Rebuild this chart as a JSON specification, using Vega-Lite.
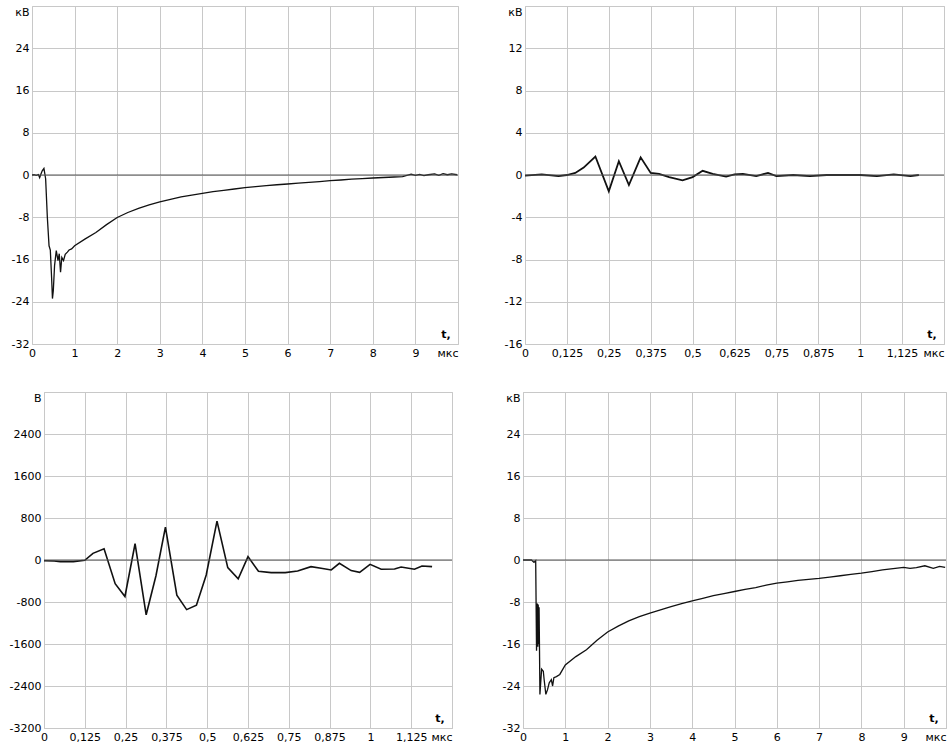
{
  "$schema": "https://vega.github.io/schema/vega-lite/v6.json",
  "padding": {"left": 0, "top": 5, "right": 0, "bottom": 0},
  "background": "white",
  "datasets": {
    "p1": [
      {"t": 0, "v": 0}, {"t": 0.05, "v": 0.05}, {"t": 0.1, "v": -0.05}, {"t": 0.15, "v": 0.1}, {"t": 0.18, "v": -0.5},
      {"t": 0.21, "v": 0.2}, {"t": 0.24, "v": 0.8}, {"t": 0.28, "v": 1.25}, {"t": 0.32, "v": -0.7}, {"t": 0.36, "v": -8},
      {"t": 0.40, "v": -13.4}, {"t": 0.43, "v": -14.2}, {"t": 0.46, "v": -19.4}, {"t": 0.48, "v": -23.4}, {"t": 0.50, "v": -21.9},
      {"t": 0.53, "v": -17.1}, {"t": 0.57, "v": -14.3}, {"t": 0.61, "v": -16.2}, {"t": 0.64, "v": -14.9}, {"t": 0.67, "v": -18.4},
      {"t": 0.70, "v": -15.6}, {"t": 0.74, "v": -16.2}, {"t": 0.78, "v": -15}, {"t": 0.83, "v": -14.6}, {"t": 0.87, "v": -14.2},
      {"t": 0.93, "v": -14}, {"t": 1.0, "v": -13.4}, {"t": 1.25, "v": -12.1}, {"t": 1.5, "v": -10.9}, {"t": 1.75, "v": -9.4},
      {"t": 2.0, "v": -8.05}, {"t": 2.25, "v": -7.1}, {"t": 2.5, "v": -6.3}, {"t": 2.75, "v": -5.65}, {"t": 3.0, "v": -5.1},
      {"t": 3.25, "v": -4.6}, {"t": 3.5, "v": -4.15}, {"t": 3.75, "v": -3.8}, {"t": 4.0, "v": -3.46}, {"t": 4.25, "v": -3.15},
      {"t": 4.5, "v": -2.9}, {"t": 4.75, "v": -2.65}, {"t": 5.0, "v": -2.4}, {"t": 5.25, "v": -2.2}, {"t": 5.5, "v": -2.0},
      {"t": 5.75, "v": -1.85}, {"t": 6.0, "v": -1.7}, {"t": 6.25, "v": -1.55}, {"t": 6.5, "v": -1.4}, {"t": 6.75, "v": -1.25},
      {"t": 7.0, "v": -1.07}, {"t": 7.25, "v": -0.95}, {"t": 7.5, "v": -0.8}, {"t": 7.75, "v": -0.68}, {"t": 8.0, "v": -0.57},
      {"t": 8.25, "v": -0.47}, {"t": 8.5, "v": -0.38}, {"t": 8.7, "v": -0.3}, {"t": 8.9, "v": 0.15}, {"t": 9.0, "v": -0.06},
      {"t": 9.1, "v": 0.1}, {"t": 9.2, "v": -0.1}, {"t": 9.3, "v": 0.05}, {"t": 9.45, "v": 0.2}, {"t": 9.55, "v": -0.05},
      {"t": 9.65, "v": 0.25}, {"t": 9.75, "v": 0.05}, {"t": 9.85, "v": 0.2}, {"t": 9.98, "v": 0.05}
    ],
    "p2": [
      {"t": 0, "v": -0.06}, {"t": 0.05, "v": 0.06}, {"t": 0.1, "v": -0.1}, {"t": 0.125, "v": 0}, {"t": 0.15, "v": 0.2},
      {"t": 0.175, "v": 0.7}, {"t": 0.21, "v": 1.75}, {"t": 0.25, "v": -1.55}, {"t": 0.28, "v": 1.3}, {"t": 0.31, "v": -0.95},
      {"t": 0.345, "v": 1.67}, {"t": 0.375, "v": 0.19}, {"t": 0.40, "v": 0.1}, {"t": 0.43, "v": -0.2}, {"t": 0.47, "v": -0.5},
      {"t": 0.5, "v": -0.2}, {"t": 0.53, "v": 0.4}, {"t": 0.56, "v": 0.1}, {"t": 0.6, "v": -0.15}, {"t": 0.625, "v": 0.06},
      {"t": 0.65, "v": 0.1}, {"t": 0.69, "v": -0.1}, {"t": 0.725, "v": 0.2}, {"t": 0.75, "v": -0.1}, {"t": 0.8, "v": 0},
      {"t": 0.85, "v": -0.1}, {"t": 0.9, "v": 0}, {"t": 1.0, "v": 0}, {"t": 1.05, "v": -0.1}, {"t": 1.1, "v": 0.05},
      {"t": 1.15, "v": -0.1}, {"t": 1.175, "v": 0}
    ],
    "p3": [
      {"t": 0, "v": -13}, {"t": 0.031, "v": -20}, {"t": 0.05, "v": -30}, {"t": 0.09, "v": -30}, {"t": 0.125, "v": -6},
      {"t": 0.15, "v": 126}, {"t": 0.184, "v": 215}, {"t": 0.218, "v": -450}, {"t": 0.248, "v": -695}, {"t": 0.279, "v": 310},
      {"t": 0.313, "v": -1044}, {"t": 0.343, "v": -300}, {"t": 0.372, "v": 625}, {"t": 0.407, "v": -670}, {"t": 0.437, "v": -945},
      {"t": 0.467, "v": -860}, {"t": 0.497, "v": -285}, {"t": 0.530, "v": 740}, {"t": 0.563, "v": -145}, {"t": 0.595, "v": -360},
      {"t": 0.625, "v": 65}, {"t": 0.657, "v": -215}, {"t": 0.696, "v": -240}, {"t": 0.739, "v": -240}, {"t": 0.777, "v": -209},
      {"t": 0.818, "v": -126}, {"t": 0.849, "v": -158}, {"t": 0.880, "v": -190}, {"t": 0.905, "v": -63}, {"t": 0.941, "v": -202},
      {"t": 0.967, "v": -234}, {"t": 0.999, "v": -82}, {"t": 1.033, "v": -177}, {"t": 1.074, "v": -171}, {"t": 1.094, "v": -133},
      {"t": 1.135, "v": -177}, {"t": 1.158, "v": -114}, {"t": 1.189, "v": -126}
    ],
    "p4": [
      {"t": 0, "v": 0}, {"t": 0.2, "v": 0}, {"t": 0.26, "v": -0.45}, {"t": 0.3, "v": -0.1}, {"t": 0.32, "v": -17.3},
      {"t": 0.34, "v": -8.3}, {"t": 0.35, "v": -16.5}, {"t": 0.36, "v": -8.5}, {"t": 0.37, "v": -16}, {"t": 0.38, "v": -9},
      {"t": 0.39, "v": -17}, {"t": 0.40, "v": -25.6}, {"t": 0.44, "v": -20.8}, {"t": 0.48, "v": -21.2}, {"t": 0.5, "v": -22.8},
      {"t": 0.54, "v": -25.6}, {"t": 0.58, "v": -24.7}, {"t": 0.62, "v": -23.4}, {"t": 0.67, "v": -22.8}, {"t": 0.7, "v": -24},
      {"t": 0.73, "v": -22.4}, {"t": 0.79, "v": -22.2}, {"t": 0.87, "v": -21.8}, {"t": 1.0, "v": -20}, {"t": 1.25, "v": -18.4},
      {"t": 1.5, "v": -17.1}, {"t": 1.75, "v": -15.3}, {"t": 2.0, "v": -13.7}, {"t": 2.25, "v": -12.6}, {"t": 2.5, "v": -11.6},
      {"t": 2.75, "v": -10.8}, {"t": 3.0, "v": -10.1}, {"t": 3.25, "v": -9.5}, {"t": 3.5, "v": -8.9}, {"t": 3.75, "v": -8.3},
      {"t": 4.0, "v": -7.8}, {"t": 4.25, "v": -7.3}, {"t": 4.5, "v": -6.8}, {"t": 4.75, "v": -6.4}, {"t": 5.0, "v": -6.0},
      {"t": 5.25, "v": -5.6}, {"t": 5.5, "v": -5.25}, {"t": 5.75, "v": -4.8}, {"t": 6.0, "v": -4.4}, {"t": 6.25, "v": -4.15},
      {"t": 6.5, "v": -3.9}, {"t": 6.75, "v": -3.7}, {"t": 7.0, "v": -3.5}, {"t": 7.25, "v": -3.25}, {"t": 7.5, "v": -3.0},
      {"t": 7.75, "v": -2.75}, {"t": 8.0, "v": -2.5}, {"t": 8.25, "v": -2.2}, {"t": 8.5, "v": -1.9}, {"t": 8.75, "v": -1.65},
      {"t": 9.0, "v": -1.4}, {"t": 9.15, "v": -1.6}, {"t": 9.3, "v": -1.45}, {"t": 9.5, "v": -1.1}, {"t": 9.7, "v": -1.6},
      {"t": 9.85, "v": -1.2}, {"t": 9.98, "v": -1.4}
    ],
    "lbl": [{"u": "t,"}],
    "none": []
  },
  "vconcat": [
    {
      "spacing": 4,
      "hconcat": [
        {"width": 1, "height": 1, "data": {"name": "none"}, "mark": "point", "encoding": {}, "view": {"stroke": null}},
        {
          "width": 426, "height": 338,
          "layer": [
            {
              "data": {"name": "p1"},
              "mark": {"type": "line", "color": "#111111", "strokeWidth": 1.3},
              "encoding": {
                "x": {"field": "t", "type": "quantitative", "scale": {"domain": [0, 10], "nice": false},
                  "axis": {"title": null, "values": [0,1,2,3,4,5,6,7,8,9,10], "minExtent": 16, "maxExtent": 16,
                    "labelExpr": "datum.value == 10 ? 'мкс' : replace(datum.value + '', '.', ',')",
                    "labelAlign": {"condition": {"test": "datum.value == 10", "value": "right"}, "value": "center"}}},
                "y": {"field": "v", "type": "quantitative", "scale": {"domain": [-32, 32], "nice": false},
                  "axis": {"title": null, "values": [-32,-24,-16,-8,0,8,16,24,32], "minExtent": 26, "maxExtent": 26,
                    "labelExpr": "datum.value == 32 ? 'кВ' : '' + datum.value",
                    "labelBaseline": {"condition": {"test": "datum.value == 32", "value": "top"}, "value": "middle"}}}
              }
            },
            {
              "data": {"name": "lbl"},
              "mark": {"type": "rule", "color": "#555555", "strokeWidth": 1},
              "encoding": {"y": {"datum": 0, "type": "quantitative"}}
            },
            {
              "data": {"name": "lbl"},
              "mark": {"type": "text", "align": "center", "baseline": "bottom", "dx": -12, "dy": -4, "fontSize": 11, "fontWeight": "bold", "color": "#000000"},
              "encoding": {"x": {"datum": 10, "type": "quantitative"}, "y": {"datum": -32, "type": "quantitative"}, "text": {"field": "u"}}
            }
          ]
        },
        {
          "width": 419, "height": 338,
          "layer": [
            {
              "data": {"name": "p2"},
              "mark": {"type": "line", "color": "#111111", "strokeWidth": 1.8},
              "encoding": {
                "x": {"field": "t", "type": "quantitative", "scale": {"domain": [0, 1.25], "nice": false},
                  "axis": {"title": null, "values": [0,0.125,0.25,0.375,0.5,0.625,0.75,0.875,1,1.125,1.25], "minExtent": 16, "maxExtent": 16,
                    "labelExpr": "datum.value == 1.25 ? 'мкс' : replace(datum.value + '', '.', ',')",
                    "labelAlign": {"condition": {"test": "datum.value == 1.25", "value": "right"}, "value": "center"}}},
                "y": {"field": "v", "type": "quantitative", "scale": {"domain": [-16, 16], "nice": false},
                  "axis": {"title": null, "values": [-16,-12,-8,-4,0,4,8,12,16], "minExtent": 59, "maxExtent": 59,
                    "labelExpr": "datum.value == 16 ? 'кВ' : '' + datum.value",
                    "labelBaseline": {"condition": {"test": "datum.value == 16", "value": "top"}, "value": "middle"}}}
              }
            },
            {
              "data": {"name": "lbl"},
              "mark": {"type": "rule", "color": "#555555", "strokeWidth": 1},
              "encoding": {"y": {"datum": 0, "type": "quantitative"}}
            },
            {
              "data": {"name": "lbl"},
              "mark": {"type": "text", "align": "center", "baseline": "bottom", "dx": -12, "dy": -4, "fontSize": 11, "fontWeight": "bold", "color": "#000000"},
              "encoding": {"x": {"datum": 1.25, "type": "quantitative"}, "y": {"datum": -16, "type": "quantitative"}, "text": {"field": "u"}}
            }
          ]
        }
      ]
    },
    {
      "spacing": 4,
      "hconcat": [
        {"width": 1, "height": 1, "data": {"name": "none"}, "mark": "point", "encoding": {}, "view": {"stroke": null}},
        {
          "width": 408, "height": 336,
          "layer": [
            {
              "data": {"name": "p3"},
              "mark": {"type": "line", "color": "#111111", "strokeWidth": 1.6},
              "encoding": {
                "x": {"field": "t", "type": "quantitative", "scale": {"domain": [0, 1.25], "nice": false},
                  "axis": {"title": null, "values": [0,0.125,0.25,0.375,0.5,0.625,0.75,0.875,1,1.125,1.25], "minExtent": 16, "maxExtent": 16,
                    "labelExpr": "datum.value == 1.25 ? 'мкс' : replace(datum.value + '', '.', ',')",
                    "labelAlign": {"condition": {"test": "datum.value == 1.25", "value": "right"}, "value": "center"}}},
                "y": {"field": "v", "type": "quantitative", "scale": {"domain": [-3200, 3200], "nice": false},
                  "axis": {"title": null, "values": [-3200,-2400,-1600,-800,0,800,1600,2400,3200], "minExtent": 38, "maxExtent": 38,
                    "labelExpr": "datum.value == 3200 ? 'В' : '' + datum.value",
                    "labelBaseline": {"condition": {"test": "datum.value == 3200", "value": "top"}, "value": "middle"}}}
              }
            },
            {
              "data": {"name": "lbl"},
              "mark": {"type": "rule", "color": "#555555", "strokeWidth": 1},
              "encoding": {"y": {"datum": 0, "type": "quantitative"}}
            },
            {
              "data": {"name": "lbl"},
              "mark": {"type": "text", "align": "center", "baseline": "bottom", "dx": -12, "dy": -4, "fontSize": 11, "fontWeight": "bold", "color": "#000000"},
              "encoding": {"x": {"datum": 1.25, "type": "quantitative"}, "y": {"datum": -3200, "type": "quantitative"}, "text": {"field": "u"}}
            }
          ]
        },
        {
          "width": 423, "height": 336,
          "layer": [
            {
              "data": {"name": "p4"},
              "mark": {"type": "line", "color": "#111111", "strokeWidth": 1.3},
              "encoding": {
                "x": {"field": "t", "type": "quantitative", "scale": {"domain": [0, 10], "nice": false},
                  "axis": {"title": null, "values": [0,1,2,3,4,5,6,7,8,9,10], "minExtent": 16, "maxExtent": 16,
                    "labelExpr": "datum.value == 10 ? 'мкс' : replace(datum.value + '', '.', ',')",
                    "labelAlign": {"condition": {"test": "datum.value == 10", "value": "right"}, "value": "center"}}},
                "y": {"field": "v", "type": "quantitative", "scale": {"domain": [-32, 32], "nice": false},
                  "axis": {"title": null, "values": [-32,-24,-16,-8,0,8,16,24,32], "minExtent": 65, "maxExtent": 65,
                    "labelExpr": "datum.value == 32 ? 'кВ' : '' + datum.value",
                    "labelBaseline": {"condition": {"test": "datum.value == 32", "value": "top"}, "value": "middle"}}}
              }
            },
            {
              "data": {"name": "lbl"},
              "mark": {"type": "rule", "color": "#555555", "strokeWidth": 1},
              "encoding": {"y": {"datum": 0, "type": "quantitative"}}
            },
            {
              "data": {"name": "lbl"},
              "mark": {"type": "text", "align": "center", "baseline": "bottom", "dx": -12, "dy": -4, "fontSize": 11, "fontWeight": "bold", "color": "#000000"},
              "encoding": {"x": {"datum": 10, "type": "quantitative"}, "y": {"datum": -32, "type": "quantitative"}, "text": {"field": "u"}}
            }
          ]
        }
      ]
    }
  ],
  "spacing": 30,
  "config": {
    "font": "DejaVu Sans",
    "view": {"stroke": "#c8c8c8", "strokeWidth": 1},
    "axis": {
      "domain": false, "ticks": false, "tickSize": 0, "labelPadding": 3,
      "labelFont": "DejaVu Sans", "labelFontSize": 11, "labelColor": "#000000",
      "grid": true, "gridColor": "#c8c8c8", "gridWidth": 1, "gridOpacity": 1,
      "labelOverlap": false, "labelFlush": false
    }
  }
}
